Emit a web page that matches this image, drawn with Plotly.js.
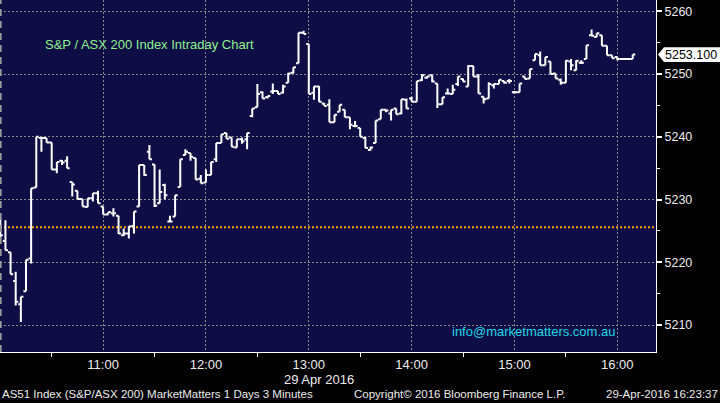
<!DOCTYPE html>
<html><head><meta charset="utf-8">
<script src="https://cdn.plot.ly/plotly-3.0.1.min.js"></script>
<style>html,body{margin:0;padding:0;background:#000;}#chart{width:720px;height:403px;}</style>
</head><body><div id="chart"></div>
<script>
// ---- data (3-minute bars, 29 Apr 2016, from 10:00) ----
const sessionDate = '2016-04-29';
const firstBarMinute = 600; // 10:00
const barMinutes = 3;
const openPx = [5226.0,5223.4,5221.6,5217.0,5213.3,5215.4,5220.6,5231.9,5239.8,5239.8,
5239.1,5234.8,5236.2,5236.2,5232.8,5231.4,5230.1,5228.8,5230.2,5231.0,
5228.9,5227.6,5227.8,5227.4,5224.3,5224.6,5225.8,5228.9,5235.5,5237.6,
5235.6,5229.4,5232.3,5226.5,5227.3,5232.0,5237.1,5237.4,5236.6,5233.3,
5232.7,5233.9,5236.4,5239.0,5240.6,5239.9,5238.3,5239.6,5239.6,5243.3,
5244.7,5247.1,5246.3,5247.2,5247.3,5247.0,5248.6,5250.2,5251.7,5256.6,
5254.8,5247.0,5248.0,5245.3,5245.1,5242.3,5244.0,5244.3,5243.1,5241.7,
5241.4,5239.8,5237.9,5239.0,5242.8,5244.3,5243.7,5244.5,5243.7,5245.9,
5246.1,5245.6,5249.0,5249.4,5249.8,5248.5,5245.2,5246.9,5246.8,5248.4,
5249.2,5248.0,5251.3,5249.6,5246.4,5246.1,5248.2,5248.4,5248.9,5248.9,
5247.1,5247.1,5249.6,5249.3,5252.2,5253.0,5251.4,5252.0,5250.1,5249.1,
5248.6,5252.0,5250.6,5251.8,5252.4,5256.2,5255.9,5256.2,5254.5,5253.0,
5252.7,5252.4,5252.4,5252.4];
const highPx = [5227.0,5226.7,5221.6,5218.5,5214.5,5220.4,5231.8,5240.0,5239.9,5239.8,
5239.1,5236.0,5236.3,5236.9,5232.8,5231.4,5230.1,5230.2,5231.0,5231.4,
5228.9,5228.0,5228.6,5227.4,5225.4,5225.8,5228.1,5235.5,5235.5,5238.7,
5235.6,5234.8,5232.5,5227.4,5230.7,5236.4,5238.0,5237.4,5236.6,5233.9,
5234.8,5236.0,5239.0,5240.4,5240.6,5239.9,5239.6,5239.9,5240.6,5244.5,
5248.4,5247.2,5246.5,5248.5,5247.3,5248.3,5250.2,5251.1,5256.6,5256.9,
5254.8,5248.0,5248.1,5245.4,5246.0,5243.5,5245.1,5244.3,5243.1,5242.5,
5241.4,5240.0,5238.4,5242.6,5244.3,5244.4,5244.3,5244.5,5246.0,5246.1,
5246.4,5248.9,5250.0,5249.7,5249.8,5248.5,5246.3,5247.7,5248.3,5249.6,
5249.3,5251.4,5251.3,5250.0,5246.4,5248.7,5248.5,5249.1,5248.9,5249.2,
5247.3,5248.5,5249.6,5250.8,5253.2,5253.6,5252.7,5252.0,5250.1,5249.3,
5252.2,5252.4,5252.2,5252.2,5254.6,5257.1,5256.5,5256.2,5254.5,5253.0,
5252.7,5252.4,5252.4,5253.1];
const lowPx = [5223.9,5221.9,5218.1,5213.1,5210.5,5215.4,5219.8,5231.9,5237.6,5239.1,
5234.8,5234.2,5235.5,5235.0,5230.5,5230.1,5228.9,5228.8,5229.7,5229.4,
5227.6,5227.6,5227.3,5224.5,5224.2,5223.8,5224.6,5228.9,5233.8,5236.4,
5228.8,5229.4,5230.0,5226.5,5227.3,5232.0,5237.1,5236.2,5233.2,5232.6,
5232.7,5233.9,5236.0,5239.0,5239.7,5238.4,5238.3,5238.9,5238.0,5243.1,
5244.7,5246.1,5246.1,5246.8,5246.8,5246.9,5248.6,5250.1,5251.7,5256.4,
5246.8,5245.9,5245.6,5244.9,5242.3,5242.3,5244.0,5243.1,5241.2,5241.5,
5240.0,5238.2,5237.8,5239.0,5242.8,5243.9,5242.6,5243.6,5243.6,5244.5,
5245.6,5245.6,5248.9,5249.3,5248.7,5244.6,5245.2,5246.9,5246.8,5248.1,
5248.8,5248.0,5249.6,5246.9,5245.3,5246.1,5247.7,5248.4,5248.5,5248.5,
5246.9,5247.1,5249.2,5249.3,5252.2,5251.4,5251.4,5250.0,5249.3,5248.3,
5248.6,5250.6,5250.6,5251.6,5252.4,5256.1,5255.9,5254.5,5253.0,5252.5,
5252.2,5252.4,5252.4,5252.4];
const closePx = [5224.3,5221.9,5218.1,5213.7,5214.5,5220.4,5231.8,5240.0,5239.8,5239.1,
5234.8,5236.0,5235.9,5235.0,5232.4,5230.1,5228.9,5230.2,5231.0,5229.4,
5227.6,5228.0,5227.8,5224.6,5224.6,5225.7,5228.1,5235.5,5233.9,5236.4,
5229.0,5231.2,5230.7,5226.5,5230.7,5236.4,5237.6,5236.8,5233.2,5232.6,
5233.9,5236.0,5239.0,5240.4,5239.7,5238.4,5239.6,5239.3,5240.6,5244.5,
5246.8,5246.1,5246.5,5247.3,5246.8,5248.0,5250.1,5251.1,5256.6,5256.4,
5246.8,5248.0,5245.6,5244.9,5242.3,5243.5,5245.1,5243.1,5241.9,5241.7,
5240.0,5238.2,5238.3,5242.6,5244.3,5244.2,5244.3,5243.6,5246.0,5244.5,
5245.6,5248.9,5249.8,5249.6,5248.8,5245.2,5246.3,5246.9,5247.5,5249.6,
5248.8,5251.3,5249.6,5246.9,5246.0,5248.4,5248.4,5249.1,5248.6,5248.9,
5247.1,5248.5,5249.2,5250.8,5253.2,5251.4,5252.7,5250.0,5249.3,5248.6,
5252.1,5251.4,5252.1,5251.8,5254.6,5256.1,5256.5,5254.5,5253.0,5252.5,
5252.4,5252.4,5252.4,5253.1];
const prevClose = 5225.6;
const titleText = 'S&P / ASX 200 Index Intraday Chart';
const emailText = 'info@marketmatters.com.au';
const dateLabel = '29 Apr 2016';
const footerLeft = 'AS51 Index (S&P/ASX 200) MarketMatters 1 Days 3 Minutes';
const footerMid = 'Copyright\u00A9 2016 Bloomberg Finance L.P.';
const footerRight = '29-Apr-2016 16:23:37';

// ---- build ----
function pad(n){return (n<10?'0':'')+n;}
const times = openPx.map((_,i)=>{const m=firstBarMinute+barMinutes*i;return sessionDate+' '+pad(Math.floor(m/60))+':'+pad(m%60);});
const lastPrice = closePx[closePx.length-1];

const trace = {
  type:'ohlc', x:times, open:openPx, high:highPx, low:lowPx, close:closePx,
  increasing:{line:{color:'#ffffff',width:2}},
  decreasing:{line:{color:'#ffffff',width:2}},
  tickwidth:0.5, hoverinfo:'skip'
};

const W=656, H=352; // plot area px
const px=(x)=>x/W, py=(y)=>(H-y)/H;
const fam='"Liberation Sans", Arial, sans-serif';

const yr=[5205.7,5261.8];
const pxPerPt = H/(yr[1]-yr[0]);
const boxHalf = 7.3/pxPerPt;

const layout = {
  width:720, height:403,
  paper_bgcolor:'#000000', plot_bgcolor:'#0f0d45',
  margin:{l:0,r:64,t:0,b:51,pad:0},
  showlegend:false,
  font:{family:fam,color:'#ececec'},
  xaxis:{
    type:'date', range:[sessionDate+' 09:59:50', sessionDate+' 16:22:35'],
    tick0:sessionDate+' 10:00', dtick:3600000, tickformat:'%H:%M',
    showgrid:true, gridcolor:'#8a8a8a', griddash:'2px,2px', gridwidth:1,
    ticks:'', showline:true, linecolor:'#ffffff', linewidth:1,
    tickfont:{family:fam,size:13,color:'#ececec'},
    minor:{dtick:1800000, ticks:'outside', ticklen:4, tickwidth:1, tickcolor:'#ffffff', showgrid:false},
    rangeslider:{visible:false}, zeroline:false, fixedrange:true
  },
  yaxis:{
    side:'right', range:yr, tick0:5200, dtick:10,
    showgrid:true, gridcolor:'#8a8a8a', griddash:'2px,2px', gridwidth:1,
    ticks:'outside', ticklen:5, tickwidth:2, tickcolor:'#ffffff',
    showline:true, linecolor:'#ffffff', linewidth:1,
    tickfont:{family:fam,size:12.5,color:'#ececec'},
    minor:{dtick:5, ticks:'outside', ticklen:3, tickwidth:1, tickcolor:'#ffffff', showgrid:false},
    zeroline:false, fixedrange:true
  },
  shapes:[
    {type:'line', xref:'paper', yref:'y', x0:0, x1:1, y0:prevClose, y1:prevClose,
     line:{color:'#ff9c00', width:2, dash:'2px,2px'}, layer:'between'},
    {type:'line', xref:'paper', yref:'paper', x0:0.001, x1:0.001, y0:0, y1:1,
     line:{color:'#9a9a9a', width:2, dash:'7px,5px'}, layer:'above'},
    {type:'path', xref:'paper', yref:'y', fillcolor:'#ffffff', line:{width:0},
     path:'M '+px(658)+' '+lastPrice+' L '+px(664)+' '+(lastPrice+boxHalf)+' L '+px(722)+' '+(lastPrice+boxHalf)+
          ' L '+px(722)+' '+(lastPrice-boxHalf)+' L '+px(664)+' '+(lastPrice-boxHalf)+' Z'}
  ],
  annotations:[
    {text:titleText, xref:'paper', yref:'paper', x:px(43), y:py(44.3), xanchor:'left', yanchor:'middle', showarrow:false,
     font:{family:fam,size:13,color:'#8ef08e'}},
    {text:emailText, xref:'paper', yref:'paper', x:px(450), y:py(331), xanchor:'left', yanchor:'middle', showarrow:false,
     font:{family:fam,size:13,color:'#1fd6e6'}},
    {text:dateLabel, xref:'paper', yref:'paper', x:px(319), y:py(379), xanchor:'center', yanchor:'middle', showarrow:false,
     borderpad:0, font:{family:fam,size:13,color:'#ececec'}},
    {text:footerLeft, xref:'paper', yref:'paper', x:px(0), y:py(394), xanchor:'left', yanchor:'middle', showarrow:false,
     font:{family:fam,size:11.5,color:'#ececec'}},
    {text:footerMid, xref:'paper', yref:'paper', x:px(352), y:py(394), xanchor:'left', yanchor:'middle', showarrow:false,
     font:{family:fam,size:11.5,color:'#ececec'}},
    {text:footerRight, xref:'paper', yref:'paper', x:px(720), y:py(394), xanchor:'right', yanchor:'middle', showarrow:false,
     font:{family:fam,size:11.5,color:'#ececec'}},
    {text:lastPrice.toFixed(3), xref:'paper', yref:'y', x:px(663), y:lastPrice, xanchor:'left', yanchor:'middle', showarrow:false,
     font:{family:fam,size:12.5,color:'#000000'}}
  ]
};

Plotly.newPlot('chart',[trace],layout,{displayModeBar:false,staticPlot:true});
</script></body></html>
